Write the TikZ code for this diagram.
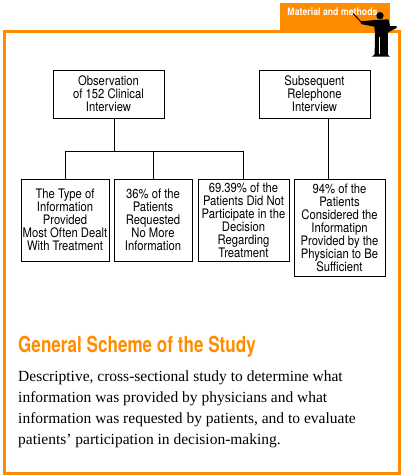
\documentclass[tikz,border=0pt]{standalone}
\usepackage{fontspec}
\setmainfont{Liberation Serif}
\newfontfamily\boxfont[FakeStretch=0.86]{TeX Gyre Heros}
\newfontfamily\titlefont[FakeStretch=0.777]{TeX Gyre Heros}
\usetikzlibrary{positioning}
\definecolor{frameorange}{HTML}{FF8C00}
\tikzset{
  studybox/.style={draw, line width=.8pt, inner sep=0pt, align=center, font=\boxfont\fontsize{13.1}{13}\selectfont},
  link/.style={line width=.8pt}
}
\begin{document}
\begin{tikzpicture}[x=1pt, y=-1pt]
\useasboundingbox (0,0) rectangle (401,475);
% frame and tab
\fill[frameorange] (280,3) rectangle (390,33);
\draw[frameorange, line width=3pt] (4.5,31.5) rectangle (399.5,473.5);
\node(Tab) at (332.5,11.5) {\boxfont\fontsize{10.2}{10}\selectfont\bfseries\color{white}Material and methods};
% boxes
\node[studybox, minimum width=111pt, minimum height=48pt](Obs) at (108.5,94) {Observation\\of 152 Clinical\\Interview};
\node[studybox, minimum width=111pt, minimum height=48pt](Sub) at (314.5,94) {Subsequent\\Relephone\\Interview};
\node[studybox, minimum width=88pt, minimum height=82pt](Type) at (65,220) {The Type of\\Information\\Provided\\Most Often Dealt\\With Treatment};
\node[studybox, minimum width=78pt, minimum height=82pt](Req) at (153,220) {36\% of the\\Patients\\Requested\\No More\\Information};
\node[studybox, minimum width=91pt, minimum height=82pt](Part) at (243.5,220) {69.39\% of the\\Patients Did Not\\Participate in the\\Decision\\Regarding\\Treatment};
\node[studybox, minimum width=91pt, minimum height=97pt](Suff) at (339.5,227.5) {94\% of the\\Patients\\Considered the\\Informatipn\\Provided by the\\Physician to Be\\Sufficient};
% connectors
\coordinate(Bus) at (114,151);
\coordinate(SubDrop) at (328,118);
\draw[link] (Obs.south -| Bus) -- (Bus);
\draw[link] (Type.north) -- (Type.north |- Bus) -- (Part.north |- Bus) -- (Part.north);
\draw[link] (Req.north) -- (Req.north |- Bus);
\draw[link] (SubDrop) -- (SubDrop |- Suff.north);
% lecturer
\begin{scope}[shift={(260,0)}, x=.3333pt, y=-.3333pt]
\fill (360,47) circle (11);
\fill (302,64) -- (345,60) -- (385,58) -- (390,78) -- (410,78) -- (410,84) -- (386,96) -- (384,100) -- (384,165) -- (390,170) -- (336,170) -- (344,163) -- (345,100) -- (343,80) -- (303,72) -- cycle;
\draw[line width=1pt] (280,41) -- (305,68);
\draw[white, line width=.5pt] (359,110) -- (359,163);
\end{scope}
% caption
\node[anchor=base west, inner sep=0pt, text=frameorange](Title) at (18,352) {\titlefont\fontsize{22}{24}\selectfont\bfseries General Scheme of the Study};
\node[anchor=north west, inner sep=0pt, align=left, font=\fontsize{15.5}{20.7}\selectfont](Desc) at (18,371) {Descriptive, cross-sectional study to determine what\\information was provided by physicians and what\\information was requested by patients, and to evaluate\\patients' participation in decision-making.};
\end{tikzpicture}
\end{document}
